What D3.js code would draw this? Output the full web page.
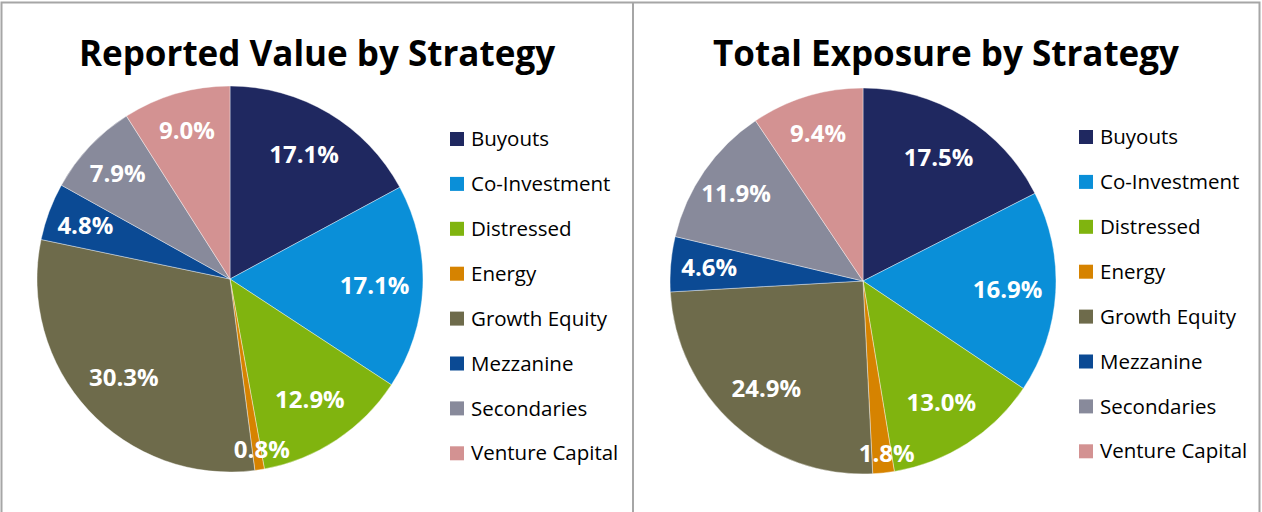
<!DOCTYPE html>
<html><head><meta charset="utf-8">
<script src="https://cdn.jsdelivr.net/npm/d3@7/dist/d3.min.js"></script>
<style>body{margin:0;background:#fff}svg{display:block}</style>
</head><body>
<script>
const categories = ["Buyouts","Co-Investment","Distressed","Energy","Growth Equity","Mezzanine","Secondaries","Venture Capital"];
const colors = ["#1F2860","#0A8FD8","#80B40F","#D68300","#6E6B4B","#0B4A94","#888A9B","#D39292"];
const reportedValues = [17.1,17.1,12.9,0.8,30.3,4.8,7.9,9.0];
const exposureValues = [17.5,16.9,13.0,1.8,24.9,4.6,11.9,9.4];
const titles = ["Reported Value by Strategy","Total Exposure by Strategy"];

const W = 1262, H = 512;
const svg = d3.select("body").append("svg").attr("width", W).attr("height", H);
const font = "'Open Sans', sans-serif";

// panel borders
svg.append("path")
  .attr("d", "M1.5,512 V2.5 H1259.5 V512 M633,2.5 V512")
  .attr("fill","none").attr("stroke","#A6A6A6").attr("stroke-width",2);

const panels = [
  {cx: 230, cy: 279, title: titles[0], vals: reportedValues, tx: 317, lx: 450, ly0: 139},
  {cx: 863, cy: 281, title: titles[1], vals: exposureValues, tx: 946, lx: 1079, ly0: 137}
];
const R = 193;
const colorScale = d3.scaleOrdinal().domain(categories).range(colors);
const pie = d3.pie().sort(null).value(d => d.v);
const arc = d3.arc().innerRadius(0).outerRadius(R);

panels.forEach(p => {
  const g = svg.append("g");
  g.append("text").attr("x", p.tx).attr("y", 66).attr("text-anchor","middle")
    .attr("font-family", font).attr("font-weight","bold").attr("font-size", 35)
    .attr("fill","#000").text(p.title);

  const data = categories.map((c,i) => ({c, v: p.vals[i]}));
  const arcs = pie(data);
  const pg = g.append("g").attr("transform", `translate(${p.cx},${p.cy})`);
  pg.selectAll("path").data(arcs).join("path")
    .attr("d", arc).attr("fill", d => colorScale(d.data.c))
    .attr("stroke","#fff").attr("stroke-width",0.4);
  pg.selectAll("text").data(arcs).join("text")
    .attr("transform", d => {
      const a = (d.startAngle + d.endAngle)/2 - (d.data.v < 2 ? 0.03 : 0);
      const r = d.data.v < 2 ? 0.9*R : (d.data.v < 12 ? 0.8*R : 0.75*R);
      return `translate(${Math.sin(a)*r},${-Math.cos(a)*r})`;
    })
    .attr("text-anchor","middle").attr("dy","0.36em")
    .attr("font-family", font).attr("font-weight","bold").attr("font-size", 24)
    .attr("fill","#fff").text(d => d.data.v.toFixed(1) + "%");

  const ly = d3.scalePoint().domain(categories).range([p.ly0, p.ly0 + 7*44.9]);
  const lg = g.append("g");
  const items = lg.selectAll("g").data(categories).join("g")
    .attr("transform", c => `translate(${p.lx},${ly(c)})`);
  items.append("rect").attr("x",0).attr("y",-7).attr("width",14).attr("height",14)
    .attr("fill", c => colorScale(c));
  items.append("text").attr("x",21).attr("dy","0.35em")
    .attr("font-family", font).attr("font-size", 20.5).attr("fill","#000").text(c => c);
});
</script>
</body></html>
